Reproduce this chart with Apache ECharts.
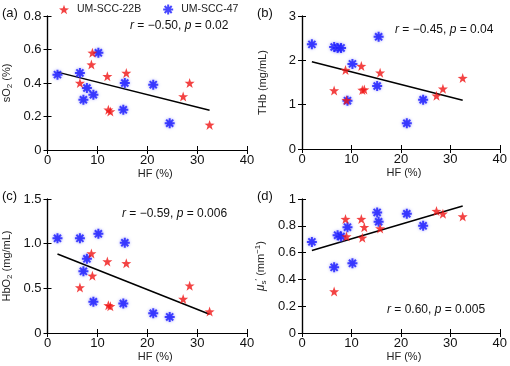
<!DOCTYPE html>
<html>
<head>
<meta charset="utf-8">
<script src="https://cdn.jsdelivr.net/npm/echarts@6/dist/echarts.min.js"></script>
<style>
  html, body { margin: 0; padding: 0; background: #fff; }
  #chart { width: 510px; height: 366px; }
</style>
</head>
<body>
<div id="chart"></div>
<script>
// HF (%) of each sample
const hfRed  = [6.5, 8.8, 9.0, 12.0, 12.2, 12.6, 15.8, 27.2, 28.5, 32.5]
const hfBlue = [2.0, 6.5, 7.2, 7.9, 9.2, 10.2, 15.2, 15.5, 21.2, 24.5]

// UM-SCC-22B
const so2Red  = [0.40, 0.51, 0.58, 0.44, 0.24, 0.23, 0.46, 0.32, 0.40, 0.15]
const thbRed  = [1.32, 1.78, 1.10, 1.87, 1.33, 1.34, 1.72, 1.20, 1.36, 1.60]
const hbo2Red = [0.51, 0.89, 0.64, 0.80, 0.31, 0.30, 0.78, 0.38, 0.53, 0.24]
const musRed  = [0.31, 0.85, 0.72, 0.85, 0.71, 0.79, 0.78, 0.91, 0.89, 0.87]

// UM-SCC-47
const so2Blue  = [0.45, 0.46, 0.30, 0.37, 0.33, 0.58, 0.24, 0.40, 0.39, 0.16]
const thbBlue  = [2.36, 2.30, 2.28, 2.28, 1.09, 1.92, 1.42, 2.53, 0.58, 1.11]
const hbo2Blue = [1.06, 1.06, 0.69, 0.83, 0.35, 1.11, 0.33, 1.01, 0.22, 0.18]
const musBlue  = [0.68, 0.49, 0.73, 0.72, 0.79, 0.52, 0.90, 0.83, 0.89, 0.80]

// fitted lines (end points)
const fitX    = [2.0, 32.5]
const fitSo2  = [0.465, 0.237]
const fitThb  = [1.97, 1.10]
const fitHbo2 = [0.885, 0.21]
const fitMus  = [0.615, 0.948]

const yMax = [0.8, 3, 1.5, 1]
const yStep = [0.2, 1, 0.5, 0.2]
const panelNames = ['(a)', '(b)', '(c)', '(d)']
const stats = [
  ['\u22120.50', '0.02'],
  ['\u22120.45', '0.04'],
  ['\u22120.59', '0.006'],
  ['0.60', '0.005']
]

// 5 point star
function starPath() {
  let d = ''
  for (let i = 0; i < 10; i++) {
    const r = i % 2 === 0 ? 50 : 20
    const a = -Math.PI / 2 + i * Math.PI / 5
    d += (i === 0 ? 'M' : 'L') + (50 + r * Math.cos(a)).toFixed(2) + ' ' + (50 + r * Math.sin(a)).toFixed(2)
  }
  return 'path://' + d + 'Z'
}
// 8 spoke asterisk
function asteriskPath() {
  let d = ''
  const w = 10
  for (let k = 0; k < 4; k++) {
    const a = k * Math.PI / 4
    const c = Math.cos(a), s = Math.sin(a)
    const pts = [[-50, -w], [50, -w], [50, w], [-50, w]]
    pts.forEach((p, i) => {
      const x = 50 + p[0] * c - p[1] * s
      const y = 50 + p[0] * s + p[1] * c
      d += (i === 0 ? 'M' : 'L') + x.toFixed(2) + ' ' + y.toFixed(2)
    })
    d += 'Z'
  }
  return 'path://' + d
}
const STAR = starPath()
const AST = asteriskPath()

const FONT = 'Liberation Sans, Arial, sans-serif'
const grids = [
  { left: 47, top: 16, width: 200, height: 134 },
  { left: 302, top: 16, width: 200, height: 133 },
  { left: 47, top: 199, width: 200, height: 134 },
  { left: 302, top: 199, width: 200, height: 134 }
]

const yNames = [
  '{t|sO}{sub|2}{t| (%)}',
  '{t|THb (mg/mL)}',
  '{t|HbO}{sub|2}{t| (mg/mL)}',
  '{mu|\u03bc}{sub|s}{sup|\u2032}{t| (mm}{sup|\u22121}{t|)}'
]

const xAxis = [], yAxis = []
grids.forEach((g, i) => {
  xAxis.push({
    gridIndex: i, type: 'value', min: 0, max: 40, interval: 10,
    name: 'HF (%)', nameLocation: 'middle', nameGap: 18,
    nameTextStyle: { fontFamily: FONT, fontSize: 11, color: '#222', padding: i % 2 === 0 ? [0, 0, 0, 16] : [0, 0, 0, 6] },
    axisLine: { lineStyle: { color: '#000', width: 1.2 } },
    axisTick: { inside: true, length: 4, lineStyle: { color: '#000' } },
    axisLabel: { fontFamily: FONT, fontSize: 13, color: '#111', margin: 4 },
    splitLine: { show: false }
  })
  xAxis.push({
    gridIndex: i, type: 'value', position: 'top', min: 0, max: 40, interval: 10,
    axisLine: { lineStyle: { color: '#000', width: 1.2 } },
    axisTick: { inside: true, length: 4, lineStyle: { color: '#000' } },
    axisLabel: { show: false }, splitLine: { show: false }
  })
  yAxis.push({
    gridIndex: i, type: 'value', min: 0, max: yMax[i], interval: yStep[i],
    name: yNames[i], nameLocation: 'middle', nameGap: 34, nameRotate: 90,
    nameTextStyle: {
      fontFamily: FONT, fontSize: 11, color: '#222',
      rich: {
        t: { fontFamily: FONT, fontSize: 11, color: '#222' },
        mu: { fontFamily: FONT, fontSize: 12, fontStyle: 'italic', color: '#222' },
        sub: { fontFamily: FONT, fontSize: 8, color: '#222', verticalAlign: 'bottom', padding: [6, 0, 0, 0] },
        sup: { fontFamily: FONT, fontSize: 8, color: '#222', verticalAlign: 'top', padding: [0, 0, 6, 0] }
      }
    },
    axisLine: { lineStyle: { color: '#000', width: 1.2 } },
    axisTick: { inside: true, length: 4, lineStyle: { color: '#000' } },
    axisLabel: {
      fontFamily: FONT, fontSize: 13, color: '#111', margin: 6,
      formatter: v => {
        if (v === 0) return '0'
        if (i === 2) return v.toFixed(1)
        return String(+v.toFixed(2))
      }
    },
    splitLine: { show: false }
  })
  yAxis.push({
    gridIndex: i, type: 'value', position: 'right', min: 0, max: yMax[i], interval: yStep[i],
    axisLine: { lineStyle: { color: '#000', width: 1.2 } },
    axisTick: { inside: true, length: 4, lineStyle: { color: '#000' } },
    axisLabel: { show: false }, splitLine: { show: false }
  })
})

const redY = [so2Red, thbRed, hbo2Red, musRed]
const blueY = [so2Blue, thbBlue, hbo2Blue, musBlue]
const fitY = [fitSo2, fitThb, fitHbo2, fitMus]
const zip = (xs, ys) => xs.map((x, k) => [x, ys[k]])

const series = []
grids.forEach((g, i) => {
  series.push({
    name: 'fit' + i, type: 'line', xAxisIndex: 2 * i, yAxisIndex: 2 * i,
    data: zip(fitX, fitY[i]), showSymbol: false, silent: true,
    lineStyle: { color: '#000', width: 1.5 }, z: 1
  })
  series.push({
    name: 'UM-SCC-47', type: 'scatter', xAxisIndex: 2 * i, yAxisIndex: 2 * i,
    data: zip(hfBlue, blueY[i]), symbol: AST, symbolSize: 10,
    itemStyle: { color: '#1a1aff', shadowBlur: 3, shadowColor: 'rgba(110,110,255,0.8)' }, z: 3
  })
  series.push({
    name: 'UM-SCC-22B', type: 'scatter', xAxisIndex: 2 * i, yAxisIndex: 2 * i,
    data: zip(hfRed, redY[i]), symbol: STAR, symbolSize: 10,
    itemStyle: { color: '#f01414' }, z: 4
  })
})

const statPos = [[130, 27], [395, 31], [122, 215], [387, 311]]
const labelPos = [[2, 14], [257, 14], [2, 197], [257, 197]]
const graphic = []
stats.forEach((s, i) => {
  graphic.push({
    type: 'text', left: statPos[i][0], top: statPos[i][1] - 7,
    style: {
      text: '{i|r}{n| = ' + s[0] + ', }{i|p}{n| = ' + s[1] + '}',
      rich: {
        i: { fontFamily: FONT, fontSize: 12, fontStyle: 'italic', fill: '#111' },
        n: { fontFamily: FONT, fontSize: 12, fill: '#111' }
      }
    }
  })
  graphic.push({
    type: 'text', left: labelPos[i][0], top: labelPos[i][1] - 7,
    style: { text: panelNames[i], fontFamily: FONT, fontSize: 13, fill: '#111' }
  })
})

const chart = echarts.init(document.getElementById('chart'))
chart.setOption({
  animation: false,
  backgroundColor: '#fff',
  grid: grids,
  xAxis: xAxis,
  yAxis: yAxis,
  legend: {
    left: 54, top: -1, itemWidth: 10, itemHeight: 10, itemGap: 22,
    textStyle: { fontFamily: FONT, fontSize: 10.5, color: '#222', padding: [0, 0, 0, 3] },
    data: [
      { name: 'UM-SCC-22B', icon: STAR, itemStyle: { color: '#f01414' } },
      { name: 'UM-SCC-47', icon: AST, itemStyle: { color: '#1a1aff' } }
    ]
  },
  graphic: graphic,
  series: series
})
</script>
</body>
</html>
